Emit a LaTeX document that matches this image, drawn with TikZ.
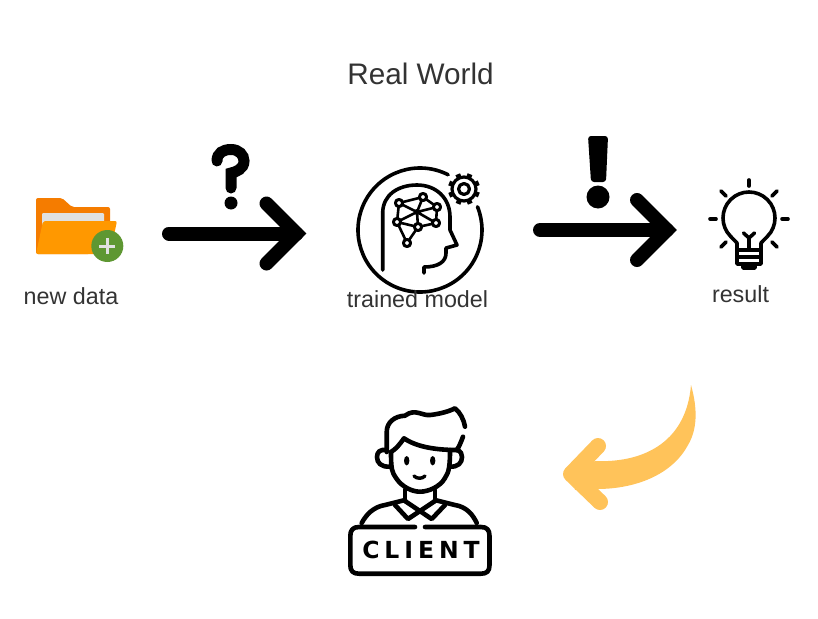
\documentclass[tikz,border=0pt]{standalone}
\usepackage{fontspec}
\setmainfont{Liberation Sans}
\newfontfamily\clientfont[LetterSpace=21]{DejaVu Sans}
\usetikzlibrary{calc,positioning}
\definecolor{labelgray}{HTML}{333333}
\definecolor{folderdark}{HTML}{F57C00}
\definecolor{folderlight}{HTML}{FF9800}
\definecolor{folderpaper}{HTML}{E0E0E0}
\definecolor{foldergreen}{HTML}{5E9732}
\definecolor{curvearrow}{HTML}{FFC35A}
\tikzset{
  caption/.style = {text=labelgray, inner sep=0pt, font=\fontsize{23.3}{26}\selectfont},
  icon/.style = {draw=black, line width=3.6pt, line cap=round, line join=round},
  thickicon/.style = {icon, line width=4.6pt},
  netline/.style = {icon, line width=2.6pt},
  bigarrow/.style = {draw=black, line width=14pt, line cap=round, line join=miter}
}
\begin{document}
\begin{tikzpicture}[x=1pt,y=-1pt]
    \useasboundingbox (0,0) rectangle (818,618);
    \fill[white] (0,0) rectangle (818,618);

    % Ordner
    \fill[folderdark, rounded corners=2pt] (36,198) -- (62,198) -- (72,207) -- (110,207) -- (110,240) -- (90,254) -- (36,254) -- cycle;
    \fill[folderpaper, rounded corners=1pt] (42,213) rectangle (104,226);
    \fill[folderlight, rounded corners=2pt] (43,221) -- (117,221) -- (110,254) -- (36,254) -- cycle;
    \node[circle, fill=foldergreen, minimum size=32pt, inner sep=0pt] (plus) at (107.3,246) {};
    \draw[folderpaper, line width=3pt] ($(plus)+(-8,0)$) -- ($(plus)+(8,0)$);
    \draw[folderpaper, line width=3pt] ($(plus)+(0,-8)$) -- ($(plus)+(0,8)$);

    % Pfeile
    \coordinate (A1) at (169,233.5);
    \coordinate (B1) at (296.5,233.5);
    \draw[bigarrow] (A1) -- (B1);
    \draw[bigarrow] ($(B1)+(-30,-30)$) -- (B1) -- ($(B1)+(-30,30)$);
    \coordinate (A2) at (540,230);
    \coordinate (B2) at (667,230);
    \draw[bigarrow] (A2) -- (B2);
    \draw[bigarrow] ($(B2)+(-30,-30)$) -- (B2) -- ($(B2)+(-30,30)$);

    % Frage- und Ausrufezeichen
    \draw[black, line width=11pt, line cap=round] (217,161) .. controls (217,153) and (223,149.5) .. (231,149.5) .. controls (239,149.5) and (244,155) .. (244,161) .. controls (244,169) and (236,172) .. (231,173) -- (231,188);
    \fill[black] (231,203) circle (6.5);
    \fill[black, rounded corners=3pt] (588,136) -- (608,136) -- (606,182) -- (591,182) -- cycle;
    \fill[black] (598,197) circle (11.5);

    % Gehirn
    \coordinate (C) at (420,230);
    \draw[icon] (C) ++(-63:62) arc (-63:-360:62) arc (0:-22:62);
    \draw[icon] (382.7,270) -- (382.7,213) .. controls (382.7,195) and (398,185) .. (417,185) .. controls (436,185) and (450,198) .. (450,217) -- (450,230) -- (457,245) -- (446,248) -- (446,253) .. controls (446,262) and (438,267) .. (424,267) -- (424,273);
    \draw[icon, line width=3.2pt] (464,189) circle (5.5);
    \draw[icon, line width=3.2pt] (464,189) circle (12);
    \foreach \w in {0,45,...,315}
        \draw[icon, line width=5pt, line cap=butt] ($(464,189)+(\w+22:12)$) -- ($(464,189)+(\w+22:16)$);
    \draw[netline] (399,203) -- (423,197) -- (437,207) -- (436,223) -- (418,227) -- (407,243) -- (397,222) -- cycle;
    \draw[netline] (399,203) -- (417,212) -- (423,197);
    \draw[netline] (437,207) -- (417,212) -- (436,223);
    \draw[netline] (397,222) -- (417,212) -- (418,227) -- (397,222);
    \foreach \a/\b in {399/203,423/197,437/207,436/223,397/222,418/227,407/243}
        \draw[netline, line width=3pt, fill=white] (\a,\b) circle (3.6);
    \fill[black] (417,212) circle (3);

    % Gluehbirne
    \coordinate (L) at (749,218);
    \draw[icon] (737,250) -- (737,243) -- ($(L)+(135:26)$) arc (135:405:26) -- (761,243) -- (761,250);
    \draw[icon] (737,250) rectangle (761,264);
    \draw[icon] (737,257) -- (761,257);
    \draw[icon] (743,264) -- (743,268) -- (755,268) -- (755,264);
    \draw[icon] (749,250) -- (749,238) -- (743.5,233);
    \draw[icon] (749,238) -- (754.5,233);
    \draw[icon] (749,180) -- (749,186);
    \draw[icon] (721,191) -- (726,196);
    \draw[icon] (777,191) -- (772,196);
    \draw[icon] (710,219) -- (716,219);
    \draw[icon] (782,219) -- (788,219);
    \draw[icon] (721,247) -- (726,242);
    \draw[icon] (777,247) -- (772,242);

    % Kunde
    \draw[thickicon] (386.7,452) -- (386.7,432) .. controls (386.7,422) and (395,416) .. (405,415.7) .. controls (415,408) and (422,416) .. (430,415) .. controls (440,414) and (450,411) .. (455,408.3) .. controls (460,412) and (464,420) .. (465,426.7);
    \draw[thickicon] (463,436.7) .. controls (461,442) and (459,447) .. (456.7,450) .. controls (440,450) and (418,448) .. (404,438.3) .. controls (400,444) and (396,449) .. (391,452);
    \draw[thickicon] (391,452) .. controls (391,470) and (392,472) .. (396,478) .. controls (402,487) and (412,491.7) .. (420,491.7) .. controls (428,491.7) and (440,487) .. (445,478) .. controls (449,472) and (450,466) .. (450,450);
    \draw[thickicon] (386.7,450) .. controls (380,449) and (377,452) .. (377,457) .. controls (377,463) and (381,467) .. (390,466.7);
    \draw[thickicon] (456.7,450) .. controls (461,451) and (462,454) .. (462,457) .. controls (462,463) and (458,467) .. (450,466.7);
    \fill[black] (406.7,460.7) ellipse (2.7 and 4.7);
    \fill[black] (432.7,460.7) ellipse (2.7 and 4.7);
    \draw[thickicon, line width=3.4pt] (414,476) .. controls (417,479) and (422,479) .. (425,476);
    \draw[thickicon] (405,490) -- (405,501);
    \draw[thickicon] (435,490) -- (435,501);
    \draw[thickicon] (405,501) -- (431.7,519) -- (445,505);
    \draw[thickicon] (435,501) -- (408,519) -- (395,505);
    \draw[thickicon] (405,500) -- (385,505) .. controls (373,507) and (366,515) .. (361.7,523);
    \draw[thickicon] (435,500) -- (455,505) .. controls (467,507) and (473,515) .. (476.7,523);
    \draw[thickicon] (415,527) -- (359,527) .. controls (353,527) and (350.3,530) .. (350.3,536) -- (350.3,565) .. controls (350.3,571) and (353,573.7) .. (359,573.7) -- (481,573.7) .. controls (487,573.7) and (489.5,571) .. (489.5,565) -- (489.5,536) .. controls (489.5,530) and (487,527) .. (481,527) -- (425,527);
    \node[inner sep=0pt, font=\clientfont\fontsize{23.5}{26}\bfseries\selectfont, text=black] (client) at (421,550) {CLIENT};

    % Gebogener Pfeil
    \fill[curvearrow] (691,385) .. controls (698,410) and (697,430) .. (688,445) .. controls (672,475) and (635,489) .. (597,489) -- (575,490) -- (572,474) -- (595,461) .. controls (640,463) and (686,445) .. (691,385) -- cycle;
    \draw[curvearrow, line width=16pt, line cap=round, line join=round] (598,446) -- (571,474) -- (600,502);

    % Beschriftungen
    \node[caption, font=\fontsize{29.7}{32}\selectfont] (title) at (420.5,74) {Real World};
    \node[caption] (newdata) at (71,296) {new data};
    \node[caption] (model) at (417.5,299) {trained model};
    \node[caption] (result) at (740.5,294) {result};
\end{tikzpicture}
\end{document}
